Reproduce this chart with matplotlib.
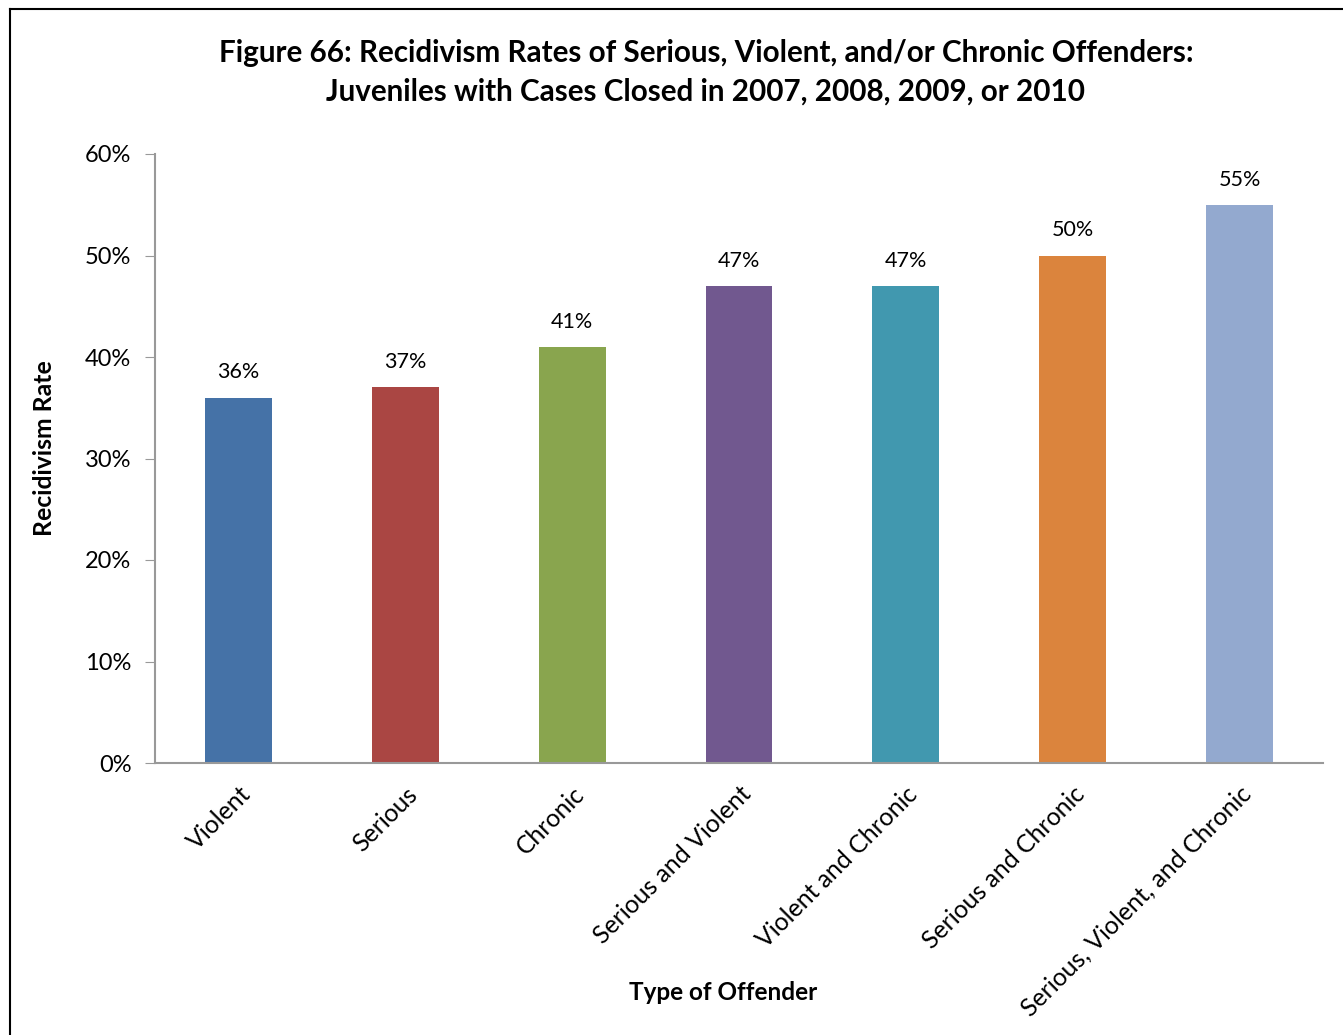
import matplotlib.pyplot as plt
from matplotlib.lines import Line2D
from matplotlib.ticker import PercentFormatter

categories = ["Violent", "Serious", "Chronic", "Serious and Violent",
              "Violent and Chronic", "Serious and Chronic",
              "Serious, Violent, and Chronic"]
rates = [36, 37, 41, 47, 47, 50, 55]
colors = ['#4572A7', '#AA4643', '#89A54E', '#71588F',
          '#4198AF', '#DB843D', '#93A9CF']

plt.rcParams['font.family'] = ['Lato', 'DejaVu Sans']

W, H = 1343, 1035
fig = plt.figure(figsize=(W / 100, H / 100), dpi=100)
ax = fig.add_axes([155 / W, 1 - 763 / H, (1323 - 155) / W, (763 - 154) / H])

x = range(len(categories))
ax.bar(x, rates, width=0.4, color=colors)
for i, v in enumerate(rates):
    ax.text(i, v + 1.5, f"{v}%", ha='center', va='bottom', fontsize=15.5)

ax.set_xlim(-0.5, len(categories) - 0.5)
ax.set_ylim(0, 60)
ax.set_yticks(range(0, 61, 10))
ax.yaxis.set_major_formatter(PercentFormatter(decimals=0))
ax.set_xticks(list(x))
ax.set_xticklabels(categories, rotation=45, ha='right', va='top',
                   rotation_mode='anchor', fontsize=17.8)
ax.tick_params(axis='x', length=0, pad=14)
ax.tick_params(axis='y', length=7, color='#999999', labelsize=17, pad=10)
for s in ['top', 'right']:
    ax.spines[s].set_visible(False)
for s in ['left', 'bottom']:
    ax.spines[s].set_color('#999999')
    ax.spines[s].set_linewidth(1.5)

fig.text(706 / W, 1 - 72 / H,
         "Figure 66: Recidivism Rates of Serious, Violent, and/or Chronic Offenders:\n"
         "Juveniles with Cases Closed in 2007, 2008, 2009, or 2010",
         ha='center', va='center', fontsize=21.3, fontweight='bold',
         linespacing=1.45)
fig.text(45 / W, 1 - 448 / H, "Recidivism Rate", rotation=90,
         ha='center', va='center', fontsize=17.8, fontweight='bold')
fig.text(723 / W, 1 - 993 / H, "Type of Offender",
         ha='center', va='center', fontsize=17.5, fontweight='bold')

# outer border
fig.add_artist(Line2D([10 / W, 10 / W], [0, 1 - 9 / H], color='black', lw=1.5))
fig.add_artist(Line2D([10 / W, 1], [1 - 9 / H, 1 - 9 / H], color='black', lw=1.5))

fig.savefig('out.png', dpi=100, facecolor='white')
